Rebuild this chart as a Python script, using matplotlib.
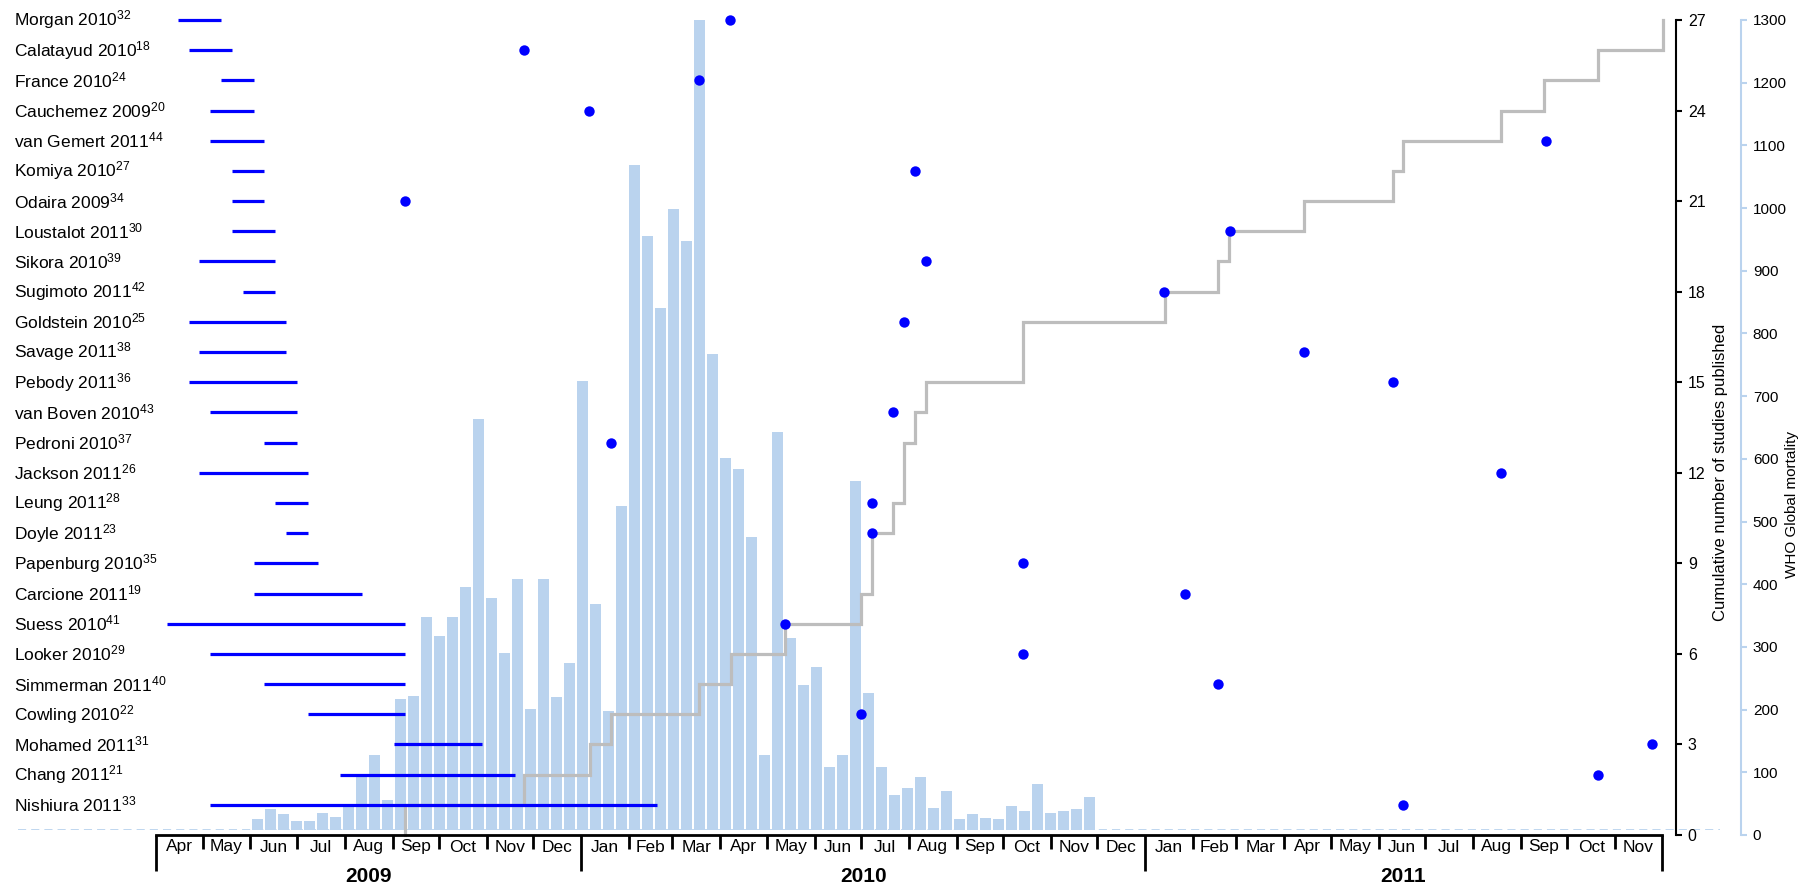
import numpy as np
import pandas as pd
import matplotlib
matplotlib.use("Agg")
import matplotlib.pyplot as plt
import matplotlib.dates as mdates
import matplotlib.transforms as mtransforms
from matplotlib.ticker import FixedLocator

plt.rcParams['font.family'] = ['Liberation Sans', 'DejaVu Sans']
plt.rcParams['mathtext.default'] = 'regular'

# studies, top row first
studies = ["Morgan 2010", "Calatayud 2010", "France 2010", "Cauchemez 2009",
           "van Gemert 2011", "Komiya 2010", "Odaira 2009", "Loustalot 2011",
           "Sikora 2010", "Sugimoto 2011", "Goldstein 2010", "Savage 2011",
           "Pebody 2011", "van Boven 2010", "Pedroni 2010", "Jackson 2011",
           "Leung 2011", "Doyle 2011", "Papenburg 2010", "Carcione 2011",
           "Suess 2010", "Looker 2010", "Simmerman 2011", "Cowling 2010",
           "Mohamed 2011", "Chang 2011", "Nishiura 2011"]
refs = [32, 18, 24, 20, 44, 27, 34, 30, 39, 42, 25, 38, 36, 43, 37, 26,
        28, 23, 35, 19, 41, 29, 40, 22, 31, 21, 33]

# study period
period_start = ["2009-04-15", "2009-04-22", "2009-05-13", "2009-05-06", "2009-05-06",
                "2009-05-20", "2009-05-20", "2009-05-20", "2009-04-29", "2009-05-27",
                "2009-04-22", "2009-04-29", "2009-04-22", "2009-05-06", "2009-06-10",
                "2009-04-29", "2009-06-17", "2009-06-24", "2009-06-03", "2009-06-03",
                "2009-04-08", "2009-05-06", "2009-06-10", "2009-07-08", "2009-09-02",
                "2009-07-29", "2009-05-06"]
period_end = ["2009-05-13", "2009-05-20", "2009-06-03", "2009-06-03", "2009-06-10",
              "2009-06-10", "2009-06-10", "2009-06-17", "2009-06-17", "2009-06-17",
              "2009-06-24", "2009-06-24", "2009-07-01", "2009-07-01", "2009-07-01",
              "2009-07-08", "2009-07-08", "2009-07-08", "2009-07-15", "2009-08-12",
              "2009-09-09", "2009-09-09", "2009-09-09", "2009-09-09", "2009-10-29",
              "2009-11-19", "2010-02-19"]

# publication date
published = ["2010-04-07", "2009-11-25", "2010-03-18", "2010-01-06", "2011-09-17",
             "2010-08-05", "2009-09-09", "2011-02-25", "2010-08-12", "2011-01-13",
             "2010-07-29", "2011-04-14", "2011-06-10", "2010-07-22", "2010-01-20",
             "2011-08-19", "2010-07-08", "2010-07-08", "2010-10-14", "2011-01-27",
             "2010-05-13", "2010-10-14", "2011-02-17", "2010-07-01", "2011-11-25",
             "2011-10-21", "2011-06-17"]

# dates counted in the cumulative total
cum_dates = ["2009-09-09", "2009-11-25", "2010-01-07", "2010-01-20", "2010-03-18",
             "2010-04-08", "2010-05-13", "2010-07-01", "2010-07-08", "2010-07-08",
             "2010-07-22", "2010-07-29", "2010-07-29", "2010-08-05", "2010-08-12",
             "2010-10-14", "2010-10-14", "2011-01-14", "2011-02-17", "2011-02-24",
             "2011-04-14", "2011-06-10", "2011-06-17", "2011-08-19", "2011-09-16",
             "2011-10-21", "2011-12-02"]

# WHO global mortality, one bar per reporting period
who_deaths = [17, 33, 25, 15, 15, 27, 21, 36, 85, 119,
              48, 209, 213, 339, 309, 339, 387, 655, 369, 282,
              400, 193, 400, 212, 266, 715, 360, 189, 515, 1058,
              946, 831, 988, 937, 1289, 758, 592, 574, 467, 119,
              633, 306, 231, 260, 100, 119, 555, 218, 100, 56,
              67, 84, 35, 62, 17, 25, 19, 17, 38, 30,
              73, 27, 30, 33, 52]

W, H = 1814, 885
fig = plt.figure(figsize=(W / 100, H / 100), dpi=100)


def px_box(x0, y0, x1, y1):
    return [x0 / W, 1 - y1 / H, (x1 - x0) / W, (y1 - y0) / H]


bar_col = '#bad3ee'
blue = '#0000ff'

# mortality bars sit on their own ordinal axis underneath
ax_bar = fig.add_axes(px_box(18, 13.3, 1720, 830))
ax_bar.bar(np.arange(len(who_deaths)), who_deaths, width=11 / 13, align='edge',
           color=bar_col, linewidth=0)
ax_bar.axhline(0, color=bar_col, lw=1.3, ls=(0, (4.5, 2.8)))
ax_bar.set_xlim(-17.98, 112.95)
ax_bar.set_ylim(0, 1300)
ax_bar.axis('off')

ax = fig.add_axes(px_box(156.2, 20, 1661.5, 835))
ax.patch.set_visible(False)
t0, t1 = pd.Timestamp("2009-04-01"), pd.Timestamp("2011-12-01")
ax.set_xlim(t0, t1)
ax.set_ylim(0, 27)

rows = np.arange(len(studies), 0, -1)

# cumulative publications
cd = mdates.date2num(pd.to_datetime(cum_dates))
counts = np.arange(1, len(cd) + 1)
xs = np.repeat(cd, 2)
ys = np.r_[0, np.repeat(counts, 2)[:-1]]
ax.plot(xs, ys, color='#bdbdbd', lw=2.3, zorder=2, clip_on=False,
        solid_joinstyle='miter')

ax.hlines(rows, pd.to_datetime(period_start), pd.to_datetime(period_end),
          color=blue, lw=2.3, zorder=3, clip_on=False)
ax.scatter(pd.to_datetime(published), rows, s=56, color=blue, zorder=4,
           clip_on=False, linewidths=0)

trans = mtransforms.blended_transform_factory(fig.transFigure, ax.transData)
for name, ref, r in zip(studies, refs, rows):
    ax.text(14 / W, r, f"{name}$^{{{ref}}}$", transform=trans, ha='left',
            va='center', fontsize=12.5)

# month / year axis
for s in ['left', 'top']:
    ax.spines[s].set_visible(False)
ax.spines['bottom'].set_linewidth(2.0)
year_marks = pd.to_datetime(["2009-04-01", "2010-01-01", "2011-01-01", "2011-12-01"])
ax.xaxis.set_major_locator(FixedLocator(mdates.date2num(year_marks)))
ax.xaxis.set_minor_locator(mdates.MonthLocator())
ax.tick_params(axis='x', which='major', length=26, width=2.0, labelbottom=False)
ax.tick_params(axis='x', which='minor', length=10, width=2.0, labelbottom=False)

xt = mtransforms.blended_transform_factory(ax.transData, fig.transFigure)
months = pd.date_range(t0, t1, freq='MS')[:-1]
for m in months:
    mid = m + (m + pd.offsets.MonthBegin(1) - m) / 2
    ax.text(mid, 1 - 847 / H, m.strftime('%b'), transform=xt, ha='center',
            va='center', fontsize=12.5)
for a, b in zip(year_marks[:-1], year_marks[1:]):
    ax.text(a + (b - a) / 2, 1 - 876 / H, str(a.year), transform=xt, ha='center',
            va='center', fontsize=15, fontweight='bold')

ax_who = ax.twinx()
ax_who.set_ylim(0, 1297)
for s in ['left', 'top', 'bottom']:
    ax_who.spines[s].set_visible(False)
ax_who.spines['right'].set_position(('outward', (1741 - 1661.5) * 0.72))
ax_who.spines['right'].set_color(bar_col)
ax_who.spines['right'].set_linewidth(1.5)
ax_who.spines['right'].set_bounds(0, 1300)
ax_who.set_yticks(np.arange(0, 1301, 100))
ax_who.tick_params(axis='y', colors=bar_col, labelcolor='black', length=4.5,
                   width=1.5, labelsize=11, pad=4)

# cumulative count axis on the right
ax.yaxis.tick_right()
ax.spines['right'].set_position(('outward', 14.5 * 0.72))
ax.spines['right'].set_linewidth(1.5)
ax.spines['right'].set_bounds(0, 27)
ax.set_yticks(np.arange(0, 28, 3))
ax.tick_params(axis='y', length=4.5, width=1.5, labelsize=11.5, pad=4)

fig.text(1720 / W, 1 - 472 / H, "Cumulative number of studies published",
         rotation=90, ha='center', va='center', fontsize=12)
fig.text(1792 / W, 1 - 505 / H, "WHO Global mortality", rotation=90,
         ha='center', va='center', fontsize=11)

fig.savefig("out.png", dpi=100)
